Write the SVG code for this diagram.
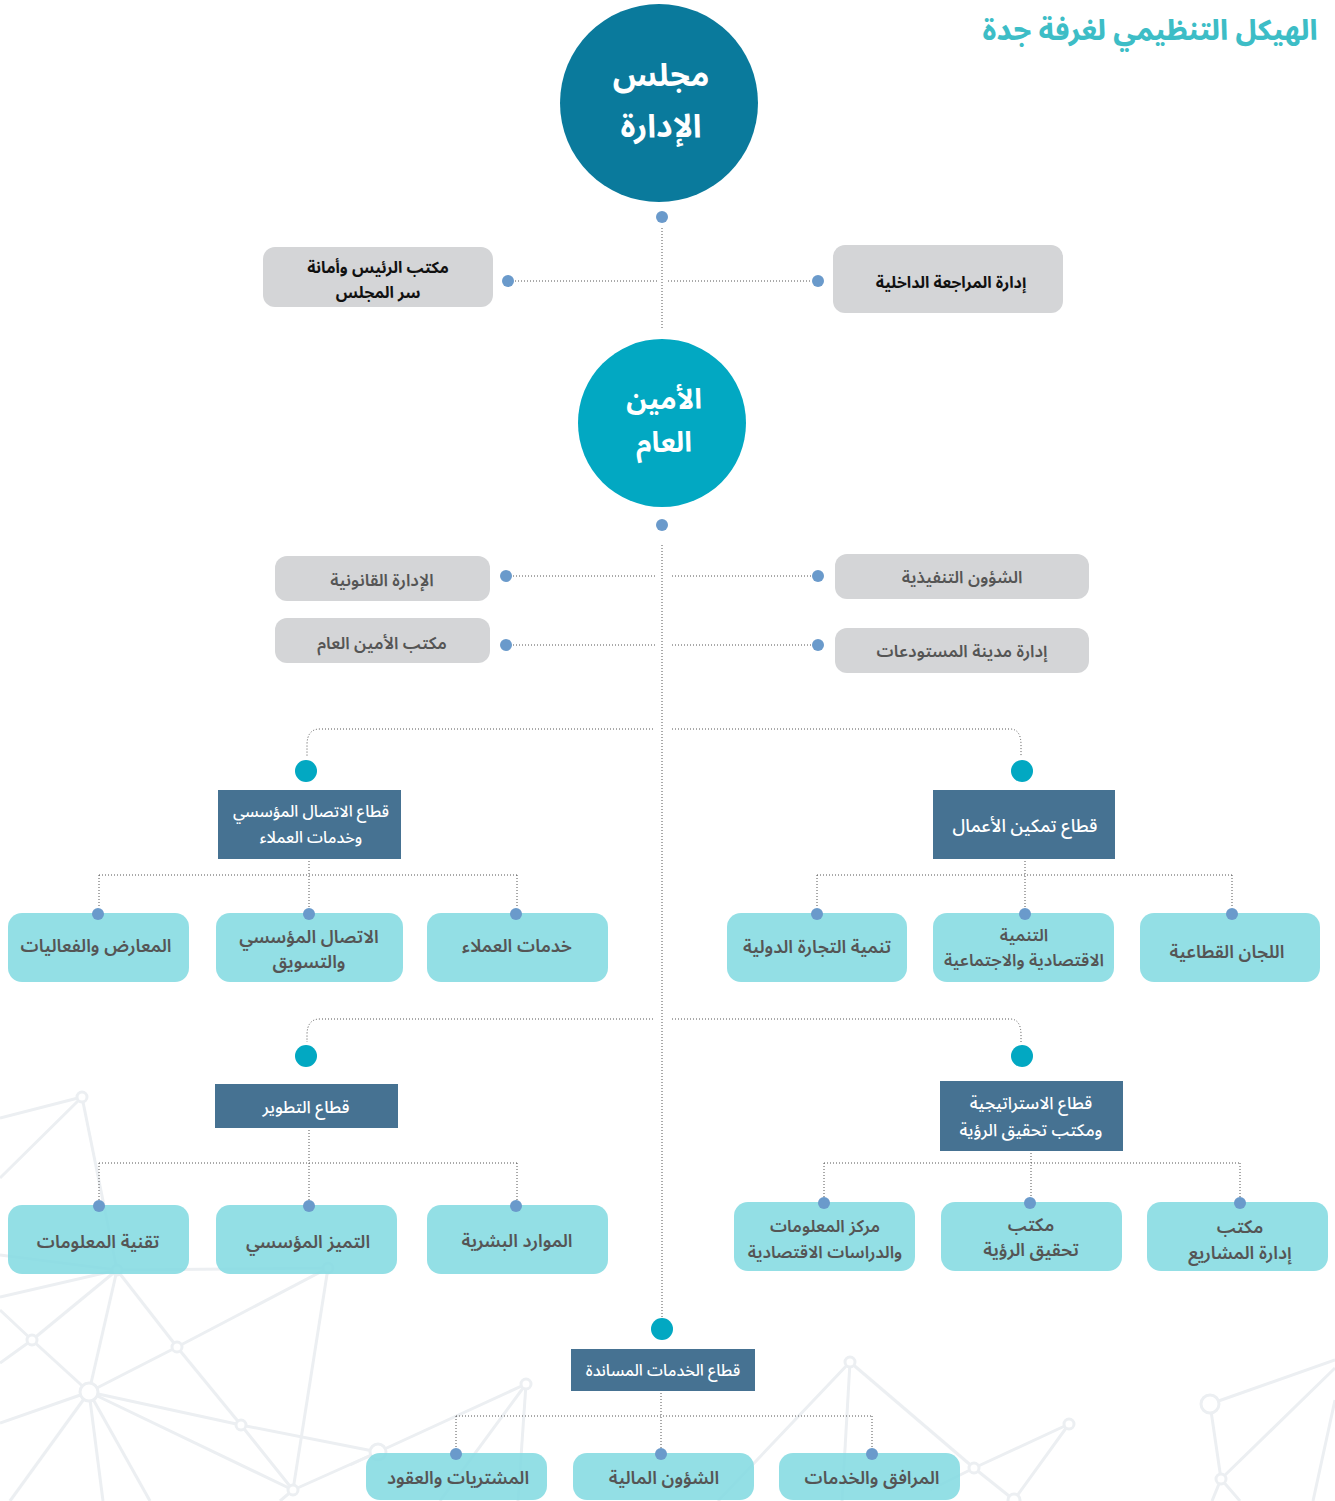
<svg xmlns="http://www.w3.org/2000/svg" width="1335" height="1501" viewBox="0 0 1335 1501">
<style>
text{font-family:'Noto Sans Arabic','Noto Sans','DejaVu Sans',sans-serif;text-anchor:middle}
.bg line{stroke:#eceff2;stroke-width:3}
.bg circle{fill:#fff;stroke:#eceff2;stroke-width:3}
.dl{stroke:#555;stroke-width:1;stroke-dasharray:1 2;fill:none}
.dot{fill:#6a9acb}
.bdot{fill:#02a8c2}
.grey{fill:#d4d5d7}
.sec{fill:#467292}
.leaf{fill:#84dbe1;fill-opacity:.88}
.tb{font-size:16px;font-weight:700;fill:#111}
.tg{font-size:17px;font-weight:600;fill:#555}
.ts{font-size:16px;font-weight:500;fill:#fff}
.tl{font-size:18px;font-weight:600;fill:#555}
.tc{font-weight:700;fill:#fff}
</style>
<rect width="1335" height="1501" fill="#fff"/>
<g class="bg" id="background">
<line x1="0" y1="1118" x2="82" y2="1097"/><line x1="0" y1="1178" x2="82" y2="1097"/><line x1="82" y1="1097" x2="117" y2="1270"/>
<line x1="0" y1="1255" x2="117" y2="1270"/><line x1="0" y1="1297" x2="117" y2="1270"/><line x1="117" y1="1270" x2="328" y2="1268"/>
<line x1="117" y1="1270" x2="32" y2="1340"/><line x1="117" y1="1270" x2="89" y2="1392"/><line x1="117" y1="1270" x2="177" y2="1347"/>
<line x1="0" y1="1310" x2="32" y2="1340"/><line x1="32" y1="1340" x2="89" y2="1392"/><line x1="0" y1="1363" x2="32" y2="1340"/>
<line x1="177" y1="1347" x2="328" y2="1268"/><line x1="177" y1="1347" x2="89" y2="1392"/><line x1="177" y1="1347" x2="241" y2="1425"/>
<line x1="328" y1="1268" x2="293" y2="1490"/><line x1="89" y1="1392" x2="0" y2="1423"/><line x1="89" y1="1392" x2="241" y2="1425"/>
<line x1="89" y1="1392" x2="293" y2="1490"/><line x1="89" y1="1392" x2="10" y2="1501"/><line x1="89" y1="1392" x2="103" y2="1501"/>
<line x1="89" y1="1392" x2="150" y2="1501"/><line x1="241" y1="1425" x2="378" y2="1452"/><line x1="241" y1="1425" x2="293" y2="1490"/>
<line x1="378" y1="1452" x2="293" y2="1490"/><line x1="378" y1="1452" x2="526" y2="1384"/><line x1="293" y1="1490" x2="280" y2="1501"/>
<line x1="526" y1="1384" x2="518" y2="1501"/><line x1="526" y1="1384" x2="440" y2="1501"/><line x1="378" y1="1452" x2="350" y2="1465"/>
<line x1="850" y1="1362" x2="842" y2="1501"/><line x1="850" y1="1362" x2="718" y2="1501"/><line x1="850" y1="1362" x2="974" y2="1468"/>
<line x1="974" y1="1468" x2="1069" y2="1424"/><line x1="974" y1="1468" x2="1014" y2="1500"/><line x1="1069" y1="1424" x2="1014" y2="1500"/>
<line x1="974" y1="1468" x2="930" y2="1490"/>
<line x1="1210" y1="1404" x2="1335" y2="1360"/><line x1="1210" y1="1404" x2="1221" y2="1479"/><line x1="1221" y1="1479" x2="1335" y2="1368"/>
<line x1="1221" y1="1479" x2="1212" y2="1501"/><line x1="1221" y1="1479" x2="1240" y2="1501"/><line x1="1335" y1="1400" x2="1313" y2="1501"/>
<circle cx="82" cy="1097" r="5"/><circle cx="117" cy="1270" r="5"/><circle cx="328" cy="1268" r="5"/><circle cx="32" cy="1340" r="5"/>
<circle cx="177" cy="1347" r="5"/><circle cx="89" cy="1392" r="9"/><circle cx="241" cy="1425" r="5"/><circle cx="378" cy="1452" r="8"/>
<circle cx="293" cy="1490" r="5"/><circle cx="526" cy="1384" r="5"/><circle cx="850" cy="1362" r="5"/><circle cx="974" cy="1468" r="5"/>
<circle cx="1069" cy="1424" r="5"/><circle cx="1014" cy="1500" r="6"/><circle cx="1210" cy="1404" r="9"/><circle cx="1221" cy="1479" r="5"/>
</g>
<text id="title" x="1150" y="40" style="font-size:28px;font-weight:800;fill:#3dbdc6">الهيكل التنظيمي لغرفة جدة</text>
<g id="connectors">
<path class="dl" d="M662,228 V330"/>
<path class="dl" d="M515,281 H657 M668,281 H812"/>
<path class="dl" d="M662,545 V1318"/>
<path class="dl" d="M513,576 H655 M672,576 H812 M513,645 H655 M672,645 H812"/>
<path class="dl" d="M653,729 H320 Q307,729 307,745 V756 M672,729 H1010 Q1021,729 1021,745 V756"/>
<path class="dl" d="M653,1019 H320 Q307,1019 307,1035 V1042 M672,1019 H1010 Q1021,1019 1021,1035 V1042"/>
<path class="dl" d="M309,861 V908 M99,875 H517 M99,875 V908 M517,875 V908"/>
<path class="dl" d="M1025,861 V908 M817,875 H1232 M817,875 V908 M1232,875 V908"/>
<path class="dl" d="M309,1130 V1200 M99,1163 H517 M99,1163 V1200 M517,1163 V1200"/>
<path class="dl" d="M1031,1153 V1197 M824,1163 H1240 M824,1163 V1197 M1240,1163 V1197"/>
<path class="dl" d="M661,1393 V1448 M456,1416 H872 M456,1416 V1448 M872,1416 V1448"/>
<circle class="dot" cx="662" cy="217" r="6"/><circle class="dot" cx="508" cy="281" r="6"/><circle class="dot" cx="818" cy="281" r="6"/>
<circle class="dot" cx="662" cy="525" r="6"/>
<circle class="dot" cx="506" cy="576" r="6"/><circle class="dot" cx="818" cy="576" r="6"/><circle class="dot" cx="506" cy="645" r="6"/><circle class="dot" cx="818" cy="645" r="6"/>
<circle class="bdot" cx="306" cy="771" r="11"/><circle class="bdot" cx="1022" cy="771" r="11"/>
<circle class="bdot" cx="306" cy="1056" r="11"/><circle class="bdot" cx="1022" cy="1056" r="11"/>
<circle class="bdot" cx="662" cy="1329" r="11"/>
</g>
<g id="board"><circle cx="659" cy="103" r="99" fill="#0a7a9c"/><text class="tc" style="font-size:32px"><tspan x="661" y="86">مجلس</tspan><tspan x="661" y="137">الإدارة</tspan></text></g>
<g id="office-chair"><rect class="grey" x="263" y="247" width="230" height="60" rx="12"/><text class="tb"><tspan x="378" y="273">مكتب الرئيس وأمانة</tspan><tspan x="378" y="298">سر المجلس</tspan></text></g>
<g id="audit"><rect class="grey" x="833" y="245" width="230" height="68" rx="12"/><text class="tb" x="951" y="288">إدارة المراجعة الداخلية</text></g>
<g id="sg"><circle cx="662" cy="423" r="84" fill="#02a8c2"/><text class="tc" style="font-size:28px"><tspan x="664" y="409">الأمين</tspan><tspan x="664" y="452">العام</tspan></text></g>
<g id="legal"><rect class="grey" x="275" y="556" width="215" height="45" rx="12"/><text class="tg" x="382" y="586">الإدارة القانونية</text></g>
<g id="sg-office"><rect class="grey" x="275" y="618" width="215" height="45" rx="12"/><text class="tg" x="382" y="649">مكتب الأمين العام</text></g>
<g id="exec"><rect class="grey" x="835" y="554" width="254" height="45" rx="12"/><text class="tg" x="962" y="583">الشؤون التنفيذية</text></g>
<g id="warehouse"><rect class="grey" x="835" y="628" width="254" height="45" rx="12"/><text class="tg" x="962" y="657">إدارة مدينة المستودعات</text></g>
<g id="sec-comm"><rect class="sec" x="218" y="790" width="183" height="69"/><text class="ts"><tspan x="311" y="817">قطاع الاتصال المؤسسي</tspan><tspan x="311" y="843">وخدمات العملاء</tspan></text></g>
<g id="sec-biz"><rect class="sec" x="933" y="790" width="182" height="69"/><text class="ts" x="1025" y="832" style="font-size:18px">قطاع تمكين الأعمال</text></g>
<g id="exhibitions"><rect class="leaf" x="8" y="913" width="181" height="69" rx="14"/><text class="tl" x="96" y="952">المعارض والفعاليات</text></g>
<g id="marketing"><rect class="leaf" x="216" y="913" width="187" height="69" rx="14"/><text class="tl"><tspan x="309" y="943">الاتصال المؤسسي</tspan><tspan x="309" y="968">والتسويق</tspan></text></g>
<g id="customers"><rect class="leaf" x="427" y="913" width="181" height="69" rx="14"/><text class="tl" x="517" y="952">خدمات العملاء</text></g>
<g id="trade"><rect class="leaf" x="727" y="913" width="180" height="69" rx="14"/><text class="tl" x="817" y="953">تنمية التجارة الدولية</text></g>
<g id="dev"><rect class="leaf" x="933" y="913" width="181" height="69" rx="14"/><text class="tl" style="font-size:17px"><tspan x="1024" y="941">التنمية</tspan><tspan x="1024" y="966">الاقتصادية والاجتماعية</tspan></text></g>
<g id="committees"><rect class="leaf" x="1140" y="913" width="180" height="69" rx="14"/><text class="tl" x="1227" y="958">اللجان القطاعية</text></g>
<g id="sec-dev"><rect class="sec" x="215" y="1084" width="183" height="44"/><text class="ts" x="306" y="1113" style="font-size:17px">قطاع التطوير</text></g>
<g id="sec-strat"><rect class="sec" x="940" y="1081" width="183" height="70"/><text class="ts" style="font-size:17px"><tspan x="1031" y="1109">قطاع الاستراتيجية</tspan><tspan x="1031" y="1136">ومكتب تحقيق الرؤية</tspan></text></g>
<g id="it"><rect class="leaf" x="8" y="1205" width="181" height="69" rx="14"/><text class="tl" x="98" y="1248">تقنية المعلومات</text></g>
<g id="excellence"><rect class="leaf" x="216" y="1205" width="181" height="69" rx="14"/><text class="tl" x="308" y="1248">التميز المؤسسي</text></g>
<g id="hr"><rect class="leaf" x="427" y="1205" width="181" height="69" rx="14"/><text class="tl" x="517" y="1247">الموارد البشرية</text></g>
<g id="info"><rect class="leaf" x="734" y="1202" width="181" height="69" rx="14"/><text class="tl" style="font-size:17px"><tspan x="825" y="1232">مركز المعلومات</tspan><tspan x="825" y="1258">والدراسات الاقتصادية</tspan></text></g>
<g id="vision"><rect class="leaf" x="941" y="1202" width="181" height="69" rx="14"/><text class="tl"><tspan x="1031" y="1231">مكتب</tspan><tspan x="1031" y="1256">تحقيق الرؤية</tspan></text></g>
<g id="pmo"><rect class="leaf" x="1147" y="1202" width="181" height="69" rx="14"/><text class="tl"><tspan x="1240" y="1233">مكتب</tspan><tspan x="1240" y="1259">إدارة المشاريع</tspan></text></g>
<g id="sec-support"><rect class="sec" x="571" y="1349" width="184" height="42"/><text class="ts" x="663" y="1376">قطاع الخدمات المساندة</text></g>
<g id="procurement"><rect class="leaf" x="366" y="1453" width="181" height="47" rx="14"/><text class="tl" x="458" y="1484">المشتريات والعقود</text></g>
<g id="finance"><rect class="leaf" x="573" y="1453" width="181" height="47" rx="14"/><text class="tl" x="664" y="1484">الشؤون المالية</text></g>
<g id="facilities"><rect class="leaf" x="779" y="1453" width="181" height="47" rx="14"/><text class="tl" x="872" y="1484">المرافق والخدمات</text></g>
<g id="leafdots">
<circle class="dot" cx="98" cy="914" r="6"/><circle class="dot" cx="309" cy="914" r="6"/><circle class="dot" cx="516" cy="914" r="6"/>
<circle class="dot" cx="817" cy="914" r="6"/><circle class="dot" cx="1025" cy="914" r="6"/><circle class="dot" cx="1232" cy="914" r="6"/>
<circle class="dot" cx="99" cy="1206" r="6"/><circle class="dot" cx="309" cy="1206" r="6"/><circle class="dot" cx="516" cy="1206" r="6"/>
<circle class="dot" cx="824" cy="1203" r="6"/><circle class="dot" cx="1030" cy="1203" r="6"/><circle class="dot" cx="1240" cy="1203" r="6"/>
<circle class="dot" cx="456" cy="1454" r="6"/><circle class="dot" cx="661" cy="1454" r="6"/><circle class="dot" cx="872" cy="1454" r="6"/>
</g>
</svg>
